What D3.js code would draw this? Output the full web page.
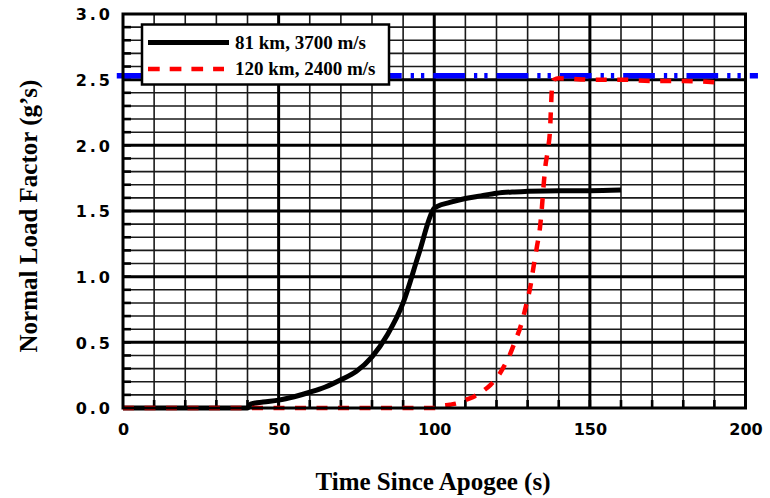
<!DOCTYPE html>
<html>
<head>
<meta charset="utf-8">
<script src="https://cdn.jsdelivr.net/npm/d3@7"></script>
<style>
  body { margin: 0; background: #fff; }
  svg { display: block; }
</style>
</head>
<body>
<svg id="chart" width="770" height="498"></svg>
<script>
// Axis ticks
const timeTicks = [0, 50, 100, 150, 200];
const loadTicks = [0, 0.5, 1.0, 1.5, 2.0, 2.5, 3.0];

// Series labels
const seriesNames = ["81 km, 3700 m/s", "120 km, 2400 m/s"];

// 81 km, 3700 m/s trajectory
const t81 = [0, 40, 41, 45, 50, 55, 60, 65, 70, 75, 80, 85, 90, 95, 100, 101, 105, 110, 115, 120, 125, 130, 140, 150, 160];
const g81 = [0, 0, 0.03, 0.046, 0.06, 0.086, 0.12, 0.16, 0.215, 0.28, 0.39, 0.56, 0.80, 1.17, 1.52, 1.535, 1.565, 1.595, 1.615, 1.635, 1.645, 1.65, 1.655, 1.655, 1.66];

// 120 km, 2400 m/s trajectory
const t120 = [0, 100, 102, 105, 108, 110, 113, 116, 118, 120, 122, 124, 126, 128, 129.5, 131, 132, 133, 134, 134.6, 135.1, 135.7, 136.6, 137.2, 137.5, 137.8, 138.5, 140, 150, 160, 170, 180, 190];
const g120 = [0, 0, 0.015, 0.025, 0.04, 0.06, 0.09, 0.135, 0.175, 0.225, 0.30, 0.39, 0.51, 0.64, 0.78, 0.94, 1.09, 1.23, 1.38, 1.53, 1.685, 1.84, 1.98, 2.12, 2.28, 2.43, 2.50, 2.51, 2.50, 2.50, 2.49, 2.49, 2.48];

// Load-factor limit line
const limitG = [2.53, 2.53];
const limitT = [-2, 204];

const svg = d3.select("#chart");

const x = d3.scaleLinear().domain([0, 200]).range([123, 745.5]);
const y = d3.scaleLinear().domain([0, 3]).range([408, 14]);

const plot = svg.append("g");

// Minor grid
plot.append("g")
  .selectAll("line")
  .data(x.ticks(20).filter(d => d % 50 !== 0))
  .join("line")
  .attr("x1", d => x(d)).attr("x2", d => x(d))
  .attr("y1", y(0)).attr("y2", y(3))
  .attr("stroke", "#1a1a1a").attr("stroke-width", 1.6);

plot.append("g")
  .selectAll("line")
  .data(d3.range(1, 30).map(i => i / 10).filter((d, i) => (i + 1) % 5 !== 0))
  .join("line")
  .attr("x1", x(0)).attr("x2", x(200))
  .attr("y1", d => y(d)).attr("y2", d => y(d))
  .attr("stroke", "#1a1a1a").attr("stroke-width", 1.6);

// Inward minor ticks on the left and bottom edges
plot.append("g")
  .selectAll("line")
  .data(d3.range(1, 30).map(i => i / 10))
  .join("line")
  .attr("x1", x(0)).attr("x2", x(0) + 8)
  .attr("y1", d => y(d)).attr("y2", d => y(d))
  .attr("stroke", "#000").attr("stroke-width", 2.6);

plot.append("g")
  .selectAll("line")
  .data(d3.range(1, 20).map(i => i * 10))
  .join("line")
  .attr("x1", d => x(d)).attr("x2", d => x(d))
  .attr("y1", y(0)).attr("y2", y(0) - 8)
  .attr("stroke", "#000").attr("stroke-width", 2.6);

// Major grid
plot.append("g")
  .selectAll("line")
  .data(timeTicks.slice(1, -1))
  .join("line")
  .attr("x1", d => x(d)).attr("x2", d => x(d))
  .attr("y1", y(0)).attr("y2", y(3))
  .attr("stroke", "#000").attr("stroke-width", 3);

plot.append("g")
  .selectAll("line")
  .data(loadTicks.slice(1, -1))
  .join("line")
  .attr("x1", x(0)).attr("x2", x(200))
  .attr("y1", d => y(d)).attr("y2", d => y(d))
  .attr("stroke", "#000").attr("stroke-width", 3);

const straight = d3.line().x(d => x(d[0])).y(d => y(d[1]));
const smooth = d3.line().x(d => x(d[0])).y(d => y(d[1])).curve(d3.curveMonotoneX);

// Limit line
plot.append("path")
  .datum(d3.zip(limitT, limitG))
  .attr("d", straight)
  .attr("fill", "none")
  .attr("stroke", "#0000ff")
  .attr("stroke-width", 5.5)
  .attr("stroke-dasharray", "31.7,9,3.3,7,3.3,9");

// Series curves
plot.append("path")
  .datum(d3.zip(t81, g81))
  .attr("d", smooth)
  .attr("fill", "none")
  .attr("stroke", "#000")
  .attr("stroke-width", 5)
  .attr("stroke-linejoin", "round");

plot.append("path")
  .datum(d3.zip(t120, g120))
  .attr("d", smooth)
  .attr("fill", "none")
  .attr("stroke", "#ff0000")
  .attr("stroke-width", 4.5)
  .attr("stroke-dasharray", "11,10.5");

// Plot frame
plot.append("rect")
  .attr("x", x(0)).attr("y", y(3))
  .attr("width", x(200) - x(0)).attr("height", y(0) - y(3))
  .attr("fill", "none").attr("stroke", "#000").attr("stroke-width", 3);

// Axes (labels only)
const xAxis = svg.append("g")
  .attr("transform", `translate(0,${y(0)})`)
  .call(d3.axisBottom(x).tickValues(timeTicks).tickSize(0).tickFormat(d3.format("d")));
xAxis.select(".domain").remove();
xAxis.selectAll("text")
  .attr("y", 27).attr("dy", 0)
  .attr("font-family", "DejaVu Sans").attr("font-weight", "bold")
  .attr("font-size", 16).attr("fill", "#000");

const yAxis = svg.append("g")
  .attr("transform", `translate(113,0)`)
  .call(d3.axisLeft(y).tickValues(loadTicks).tickSize(0).tickPadding(0).tickFormat(d3.format(".1f")));
yAxis.select(".domain").remove();
yAxis.selectAll("text")
  .attr("x", 0).attr("dy", "0.36em")
  .attr("font-family", "DejaVu Sans").attr("font-weight", "bold")
  .attr("font-size", 16).attr("fill", "#000")
  .style("letter-spacing", "3px");

// Axis titles
svg.append("text")
  .attr("x", 433).attr("y", 490)
  .attr("text-anchor", "middle")
  .attr("font-family", "Liberation Serif").attr("font-weight", "bold")
  .attr("font-size", 25).attr("fill", "#000")
  .text("Time Since Apogee (s)");

svg.append("text")
  .attr("transform", "translate(37,216) rotate(-90)")
  .attr("text-anchor", "middle")
  .attr("font-family", "Liberation Serif").attr("font-weight", "bold")
  .attr("font-size", 25).attr("fill", "#000")
  .text("Normal Load Factor (g\u2019s)");

// Legend
const legend = svg.append("g");
legend.append("rect")
  .attr("x", 142).attr("y", 24.5).attr("width", 247).attr("height", 60)
  .attr("fill", "#fff").attr("stroke", "#000").attr("stroke-width", 2.5);

const legendStyles = [
  { stroke: "#000", width: 5, dash: null, x2: 229 },
  { stroke: "#ff0000", width: 4.5, dash: "11.7,10", x2: 224 }
];
seriesNames.forEach((name, i) => {
  const cy = 42.5 + i * 26.5;
  legend.append("line")
    .attr("x1", 148).attr("x2", legendStyles[i].x2)
    .attr("y1", cy).attr("y2", cy)
    .attr("stroke", legendStyles[i].stroke)
    .attr("stroke-width", legendStyles[i].width)
    .attr("stroke-dasharray", legendStyles[i].dash);
  legend.append("text")
    .attr("x", 235).attr("y", cy + 6)
    .attr("font-family", "Liberation Serif").attr("font-weight", "bold")
    .attr("font-size", 19).attr("fill", "#000")
    .text(name);
});
</script>
</body>
</html>
